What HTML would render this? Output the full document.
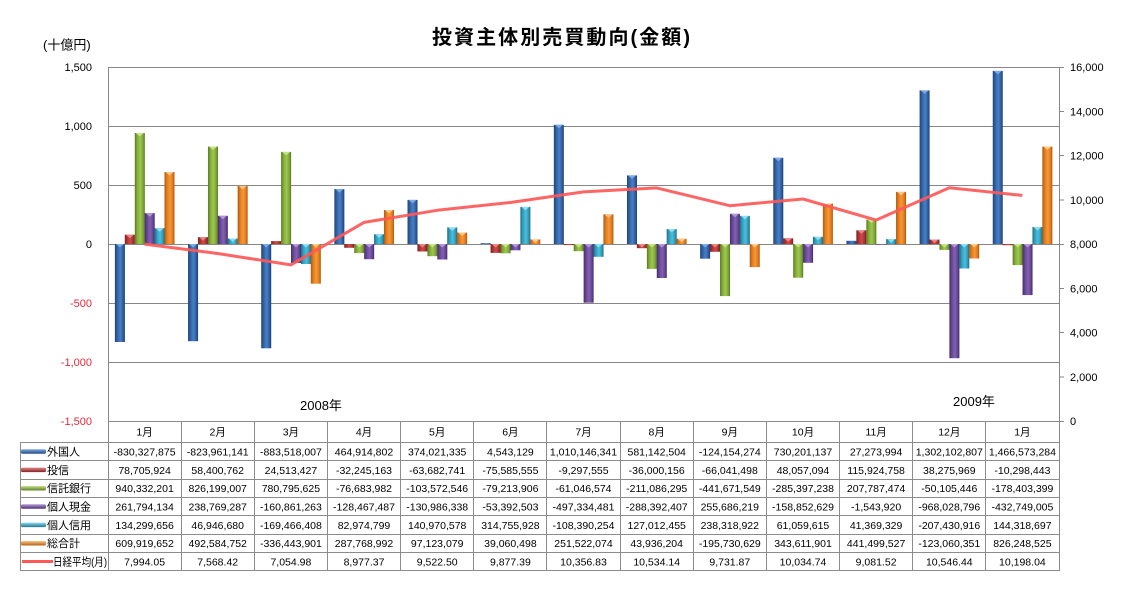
<!DOCTYPE html>
<html><head><meta charset="utf-8"><style>
html,body{margin:0;padding:0;background:#fff;}
svg{display:block;font-family:"Liberation Sans","Noto Sans CJK JP",sans-serif;}
</style></head><body>
<svg width="1121" height="591" viewBox="0 0 1121 591" xmlns="http://www.w3.org/2000/svg">
<defs>
<linearGradient id="g0" x1="0" x2="1" y1="0" y2="0"><stop offset="0" stop-color="#1f4479"/><stop offset="0.25" stop-color="#3163a6"/><stop offset="0.55" stop-color="#4a7fc6"/><stop offset="0.85" stop-color="#2c5a98"/><stop offset="1" stop-color="#1d3f70"/></linearGradient>
<linearGradient id="g1" x1="0" x2="1" y1="0" y2="0"><stop offset="0" stop-color="#7c2020"/><stop offset="0.25" stop-color="#b13434"/><stop offset="0.55" stop-color="#cc4c4c"/><stop offset="0.85" stop-color="#a42f2f"/><stop offset="1" stop-color="#751e1e"/></linearGradient>
<linearGradient id="g2" x1="0" x2="1" y1="0" y2="0"><stop offset="0" stop-color="#5a7822"/><stop offset="0.25" stop-color="#84ad38"/><stop offset="0.55" stop-color="#9fc652"/><stop offset="0.85" stop-color="#7aa132"/><stop offset="1" stop-color="#557220"/></linearGradient>
<linearGradient id="g3" x1="0" x2="1" y1="0" y2="0"><stop offset="0" stop-color="#452d69"/><stop offset="0.25" stop-color="#684896"/><stop offset="0.55" stop-color="#8261b3"/><stop offset="0.85" stop-color="#61428c"/><stop offset="1" stop-color="#412a63"/></linearGradient>
<linearGradient id="g4" x1="0" x2="1" y1="0" y2="0"><stop offset="0" stop-color="#1c6f88"/><stop offset="0.25" stop-color="#31a0bf"/><stop offset="0.55" stop-color="#4dbedb"/><stop offset="0.85" stop-color="#2d95b2"/><stop offset="1" stop-color="#1a6880"/></linearGradient>
<linearGradient id="g5" x1="0" x2="1" y1="0" y2="0"><stop offset="0" stop-color="#ad580e"/><stop offset="0.25" stop-color="#e57d1c"/><stop offset="0.55" stop-color="#f4983b"/><stop offset="0.85" stop-color="#dc7719"/><stop offset="1" stop-color="#a6540d"/></linearGradient>
<polygon id="k0" points="1,0 9,0 5,3.5" fill="#7fa9e4"/>
<polygon id="k1" points="1,0 9,0 5,3.5" fill="#e68888"/>
<polygon id="k2" points="1,0 9,0 5,3.5" fill="#c6e38c"/>
<polygon id="k3" points="1,0 9,0 5,3.5" fill="#b398d8"/>
<polygon id="k4" points="1,0 9,0 5,3.5" fill="#92dcef"/>
<polygon id="k5" points="1,0 9,0 5,3.5" fill="#fbc78a"/>
<linearGradient id="l0" x1="0" x2="0" y1="0" y2="1"><stop offset="0" stop-color="#7fa9e4"/><stop offset="1" stop-color="#24497e"/></linearGradient>
<linearGradient id="l1" x1="0" x2="0" y1="0" y2="1"><stop offset="0" stop-color="#e68888"/><stop offset="1" stop-color="#842424"/></linearGradient>
<linearGradient id="l2" x1="0" x2="0" y1="0" y2="1"><stop offset="0" stop-color="#c6e38c"/><stop offset="1" stop-color="#5e7d25"/></linearGradient>
<linearGradient id="l3" x1="0" x2="0" y1="0" y2="1"><stop offset="0" stop-color="#b398d8"/><stop offset="1" stop-color="#4a3170"/></linearGradient>
<linearGradient id="l4" x1="0" x2="0" y1="0" y2="1"><stop offset="0" stop-color="#92dcef"/><stop offset="1" stop-color="#1f7690"/></linearGradient>
<linearGradient id="l5" x1="0" x2="0" y1="0" y2="1"><stop offset="0" stop-color="#fbc78a"/><stop offset="1" stop-color="#b55e10"/></linearGradient>
</defs>

<text x="561" y="44" font-size="20" font-weight="bold" text-anchor="middle" textLength="258" lengthAdjust="spacing" fill="#000">投資主体別売買動向(金額)</text>
<text x="43" y="49.5" font-size="13" fill="#000">(十億円)</text>

<g stroke="#878787" stroke-width="1">
<line x1="108" y1="67.5" x2="1059" y2="67.5"/>
<line x1="108" y1="126.5" x2="1059" y2="126.5"/>
<line x1="108" y1="185.5" x2="1059" y2="185.5"/>
<line x1="108" y1="244.5" x2="1059" y2="244.5"/>
<line x1="108" y1="303.5" x2="1059" y2="303.5"/>
<line x1="108" y1="362.5" x2="1059" y2="362.5"/>
</g>

<g font-size="11" text-anchor="end">
<text x="92" y="71" fill="#000">1,500</text>
<text x="92" y="130" fill="#000">1,000</text>
<text x="92" y="189" fill="#000">500</text>
<text x="92" y="248" fill="#000">0</text>
<text x="92" y="307" fill="#e8283a">-500</text>
<text x="92" y="366" fill="#e8283a">-1,000</text>
<text x="92" y="425" fill="#e8283a">-1,500</text>
</g>

<g font-size="11" fill="#000">
<text x="1070" y="71">16,000</text>
<text x="1070" y="115.3">14,000</text>
<text x="1070" y="159.5">12,000</text>
<text x="1070" y="203.8">10,000</text>
<text x="1070" y="248">8,000</text>
<text x="1070" y="292.3">6,000</text>
<text x="1070" y="336.5">4,000</text>
<text x="1070" y="380.8">2,000</text>
<text x="1070" y="425">0</text>
</g>
<g stroke="#878787" stroke-width="1">
<line x1="1059" y1="67.5" x2="1064" y2="67.5"/>
<line x1="1059" y1="111.5" x2="1064" y2="111.5"/>
<line x1="1059" y1="155.5" x2="1064" y2="155.5"/>
<line x1="1059" y1="200" x2="1064" y2="200"/>
<line x1="1059" y1="244.5" x2="1064" y2="244.5"/>
<line x1="1059" y1="288.5" x2="1064" y2="288.5"/>
<line x1="1059" y1="332.5" x2="1064" y2="332.5"/>
<line x1="1059" y1="377" x2="1064" y2="377"/>
<line x1="1059" y1="421.5" x2="1064" y2="421.5"/>
</g>

<g transform="translate(108,0)">
<rect x="6.9" y="244" width="10" height="98.0" fill="url(#g0)"/><use href="#k0" x="6.9" y="244"/>
<rect x="16.8" y="234.7" width="10" height="9.3" fill="url(#g1)"/><use href="#k1" x="16.8" y="234.7"/>
<rect x="26.8" y="133.0" width="10" height="111.0" fill="url(#g2)"/><use href="#k2" x="26.8" y="133.0"/>
<rect x="36.7" y="213.1" width="10" height="30.9" fill="url(#g3)"/><use href="#k3" x="36.7" y="213.1"/>
<rect x="46.6" y="228.2" width="10" height="15.8" fill="url(#g4)"/><use href="#k4" x="46.6" y="228.2"/>
<rect x="56.5" y="172.0" width="10" height="72.0" fill="url(#g5)"/><use href="#k5" x="56.5" y="172.0"/>
</g>
<g transform="translate(181.15,0)">
<rect x="6.9" y="244" width="10" height="97.2" fill="url(#g0)"/><use href="#k0" x="6.9" y="244"/>
<rect x="16.8" y="237.1" width="10" height="6.9" fill="url(#g1)"/><use href="#k1" x="16.8" y="237.1"/>
<rect x="26.8" y="146.5" width="10" height="97.5" fill="url(#g2)"/><use href="#k2" x="26.8" y="146.5"/>
<rect x="36.7" y="215.8" width="10" height="28.2" fill="url(#g3)"/><use href="#k3" x="36.7" y="215.8"/>
<rect x="46.6" y="238.5" width="10" height="5.5" fill="url(#g4)"/><use href="#k4" x="46.6" y="238.5"/>
<rect x="56.5" y="185.9" width="10" height="58.1" fill="url(#g5)"/><use href="#k5" x="56.5" y="185.9"/>
</g>
<g transform="translate(254.31,0)">
<rect x="6.9" y="244" width="10" height="104.3" fill="url(#g0)"/><use href="#k0" x="6.9" y="244"/>
<rect x="16.8" y="241.1" width="10" height="2.9" fill="url(#g1)"/>
<rect x="26.8" y="151.9" width="10" height="92.1" fill="url(#g2)"/><use href="#k2" x="26.8" y="151.9"/>
<rect x="36.7" y="244" width="10" height="19.0" fill="url(#g3)"/><use href="#k3" x="36.7" y="244"/>
<rect x="46.6" y="244" width="10" height="20.0" fill="url(#g4)"/><use href="#k4" x="46.6" y="244"/>
<rect x="56.5" y="244" width="10" height="39.7" fill="url(#g5)"/><use href="#k5" x="56.5" y="244"/>
</g>
<g transform="translate(327.46,0)">
<rect x="6.9" y="189.1" width="10" height="54.9" fill="url(#g0)"/><use href="#k0" x="6.9" y="189.1"/>
<rect x="16.8" y="244" width="10" height="3.8" fill="url(#g1)"/>
<rect x="26.8" y="244" width="10" height="9.1" fill="url(#g2)"/><use href="#k2" x="26.8" y="244"/>
<rect x="36.7" y="244" width="10" height="15.2" fill="url(#g3)"/><use href="#k3" x="36.7" y="244"/>
<rect x="46.6" y="234.2" width="10" height="9.8" fill="url(#g4)"/><use href="#k4" x="46.6" y="234.2"/>
<rect x="56.5" y="210.0" width="10" height="34.0" fill="url(#g5)"/><use href="#k5" x="56.5" y="210.0"/>
</g>
<g transform="translate(400.62,0)">
<rect x="6.9" y="199.9" width="10" height="44.1" fill="url(#g0)"/><use href="#k0" x="6.9" y="199.9"/>
<rect x="16.8" y="244" width="10" height="7.5" fill="url(#g1)"/><use href="#k1" x="16.8" y="244"/>
<rect x="26.8" y="244" width="10" height="12.2" fill="url(#g2)"/><use href="#k2" x="26.8" y="244"/>
<rect x="36.7" y="244" width="10" height="15.5" fill="url(#g3)"/><use href="#k3" x="36.7" y="244"/>
<rect x="46.6" y="227.4" width="10" height="16.6" fill="url(#g4)"/><use href="#k4" x="46.6" y="227.4"/>
<rect x="56.5" y="232.5" width="10" height="11.5" fill="url(#g5)"/><use href="#k5" x="56.5" y="232.5"/>
</g>
<g transform="translate(473.77,0)">
<rect x="6.9" y="243.2" width="10" height="0.8" fill="url(#g0)"/>
<rect x="16.8" y="244" width="10" height="8.9" fill="url(#g1)"/><use href="#k1" x="16.8" y="244"/>
<rect x="26.8" y="244" width="10" height="9.3" fill="url(#g2)"/><use href="#k2" x="26.8" y="244"/>
<rect x="36.7" y="244" width="10" height="6.3" fill="url(#g3)"/><use href="#k3" x="36.7" y="244"/>
<rect x="46.6" y="206.9" width="10" height="37.1" fill="url(#g4)"/><use href="#k4" x="46.6" y="206.9"/>
<rect x="56.5" y="239.4" width="10" height="4.6" fill="url(#g5)"/><use href="#k5" x="56.5" y="239.4"/>
</g>
<g transform="translate(546.92,0)">
<rect x="6.9" y="124.8" width="10" height="119.2" fill="url(#g0)"/><use href="#k0" x="6.9" y="124.8"/>
<rect x="16.8" y="244" width="10" height="1.1" fill="url(#g1)"/>
<rect x="26.8" y="244" width="10" height="7.2" fill="url(#g2)"/><use href="#k2" x="26.8" y="244"/>
<rect x="36.7" y="244" width="10" height="58.7" fill="url(#g3)"/><use href="#k3" x="36.7" y="244"/>
<rect x="46.6" y="244" width="10" height="12.8" fill="url(#g4)"/><use href="#k4" x="46.6" y="244"/>
<rect x="56.5" y="214.3" width="10" height="29.7" fill="url(#g5)"/><use href="#k5" x="56.5" y="214.3"/>
</g>
<g transform="translate(620.08,0)">
<rect x="6.9" y="175.4" width="10" height="68.6" fill="url(#g0)"/><use href="#k0" x="6.9" y="175.4"/>
<rect x="16.8" y="244" width="10" height="4.2" fill="url(#g1)"/><use href="#k1" x="16.8" y="244"/>
<rect x="26.8" y="244" width="10" height="24.9" fill="url(#g2)"/><use href="#k2" x="26.8" y="244"/>
<rect x="36.7" y="244" width="10" height="34.0" fill="url(#g3)"/><use href="#k3" x="36.7" y="244"/>
<rect x="46.6" y="229.0" width="10" height="15.0" fill="url(#g4)"/><use href="#k4" x="46.6" y="229.0"/>
<rect x="56.5" y="238.8" width="10" height="5.2" fill="url(#g5)"/><use href="#k5" x="56.5" y="238.8"/>
</g>
<g transform="translate(693.23,0)">
<rect x="6.9" y="244" width="10" height="14.7" fill="url(#g0)"/><use href="#k0" x="6.9" y="244"/>
<rect x="16.8" y="244" width="10" height="7.8" fill="url(#g1)"/><use href="#k1" x="16.8" y="244"/>
<rect x="26.8" y="244" width="10" height="52.1" fill="url(#g2)"/><use href="#k2" x="26.8" y="244"/>
<rect x="36.7" y="213.8" width="10" height="30.2" fill="url(#g3)"/><use href="#k3" x="36.7" y="213.8"/>
<rect x="46.6" y="215.9" width="10" height="28.1" fill="url(#g4)"/><use href="#k4" x="46.6" y="215.9"/>
<rect x="56.5" y="244" width="10" height="23.1" fill="url(#g5)"/><use href="#k5" x="56.5" y="244"/>
</g>
<g transform="translate(766.38,0)">
<rect x="6.9" y="157.8" width="10" height="86.2" fill="url(#g0)"/><use href="#k0" x="6.9" y="157.8"/>
<rect x="16.8" y="238.3" width="10" height="5.7" fill="url(#g1)"/><use href="#k1" x="16.8" y="238.3"/>
<rect x="26.8" y="244" width="10" height="33.7" fill="url(#g2)"/><use href="#k2" x="26.8" y="244"/>
<rect x="36.7" y="244" width="10" height="18.8" fill="url(#g3)"/><use href="#k3" x="36.7" y="244"/>
<rect x="46.6" y="236.8" width="10" height="7.2" fill="url(#g4)"/><use href="#k4" x="46.6" y="236.8"/>
<rect x="56.5" y="203.5" width="10" height="40.5" fill="url(#g5)"/><use href="#k5" x="56.5" y="203.5"/>
</g>
<g transform="translate(839.54,0)">
<rect x="6.9" y="240.8" width="10" height="3.2" fill="url(#g0)"/>
<rect x="16.8" y="230.3" width="10" height="13.7" fill="url(#g1)"/><use href="#k1" x="16.8" y="230.3"/>
<rect x="26.8" y="219.5" width="10" height="24.5" fill="url(#g2)"/><use href="#k2" x="26.8" y="219.5"/>
<rect x="36.7" y="244" width="10" height="0.5" fill="url(#g3)"/>
<rect x="46.6" y="239.1" width="10" height="4.9" fill="url(#g4)"/><use href="#k4" x="46.6" y="239.1"/>
<rect x="56.5" y="191.9" width="10" height="52.1" fill="url(#g5)"/><use href="#k5" x="56.5" y="191.9"/>
</g>
<g transform="translate(912.69,0)">
<rect x="6.9" y="90.4" width="10" height="153.6" fill="url(#g0)"/><use href="#k0" x="6.9" y="90.4"/>
<rect x="16.8" y="239.5" width="10" height="4.5" fill="url(#g1)"/><use href="#k1" x="16.8" y="239.5"/>
<rect x="26.8" y="244" width="10" height="5.9" fill="url(#g2)"/><use href="#k2" x="26.8" y="244"/>
<rect x="36.7" y="244" width="10" height="114.2" fill="url(#g3)"/><use href="#k3" x="36.7" y="244"/>
<rect x="46.6" y="244" width="10" height="24.5" fill="url(#g4)"/><use href="#k4" x="46.6" y="244"/>
<rect x="56.5" y="244" width="10" height="14.5" fill="url(#g5)"/><use href="#k5" x="56.5" y="244"/>
</g>
<g transform="translate(985.85,0)">
<rect x="6.9" y="70.9" width="10" height="173.1" fill="url(#g0)"/><use href="#k0" x="6.9" y="70.9"/>
<rect x="16.8" y="244" width="10" height="1.2" fill="url(#g1)"/>
<rect x="26.8" y="244" width="10" height="21.1" fill="url(#g2)"/><use href="#k2" x="26.8" y="244"/>
<rect x="36.7" y="244" width="10" height="51.1" fill="url(#g3)"/><use href="#k3" x="36.7" y="244"/>
<rect x="46.6" y="227.0" width="10" height="17.0" fill="url(#g4)"/><use href="#k4" x="46.6" y="227.0"/>
<rect x="56.5" y="146.5" width="10" height="97.5" fill="url(#g5)"/><use href="#k5" x="56.5" y="146.5"/>
</g>

<polyline fill="none" stroke="#ff5858" stroke-opacity="0.92" stroke-width="3" stroke-linejoin="round" points="144.6,244.1 217.7,253.5 290.9,264.9 364.0,222.4 437.2,210.3 510.4,202.5 583.5,191.9 656.7,187.9 729.8,205.7 803.0,199.0 876.1,220.1 949.3,187.7 1022.4,195.4"/>

<g stroke="#878787" stroke-width="1">
<line x1="108.5" y1="67" x2="108.5" y2="571"/>
<line x1="1059.5" y1="67" x2="1059.5" y2="571"/>
</g>

<text x="300" y="410" font-size="13" fill="#000">2008年</text>
<text x="953" y="406" font-size="13" fill="#000">2009年</text>

<g stroke="#8c8c8c" stroke-width="1">
<line x1="108" y1="421.5" x2="1059" y2="421.5"/>
<line x1="20" y1="442.5" x2="1059" y2="442.5"/>
<line x1="20" y1="460.5" x2="1059" y2="460.5"/>
<line x1="20" y1="479.5" x2="1059" y2="479.5"/>
<line x1="20" y1="497.5" x2="1059" y2="497.5"/>
<line x1="20" y1="515.5" x2="1059" y2="515.5"/>
<line x1="20" y1="534.5" x2="1059" y2="534.5"/>
<line x1="20" y1="552.5" x2="1059" y2="552.5"/>
<line x1="20" y1="570.5" x2="1059" y2="570.5"/>
<line x1="20.5" y1="442" x2="20.5" y2="571"/>
<line x1="181.5" y1="421" x2="181.5" y2="571"/>
<line x1="254.5" y1="421" x2="254.5" y2="571"/>
<line x1="327.5" y1="421" x2="327.5" y2="571"/>
<line x1="400.5" y1="421" x2="400.5" y2="571"/>
<line x1="473.5" y1="421" x2="473.5" y2="571"/>
<line x1="546.5" y1="421" x2="546.5" y2="571"/>
<line x1="620.5" y1="421" x2="620.5" y2="571"/>
<line x1="693.5" y1="421" x2="693.5" y2="571"/>
<line x1="766.5" y1="421" x2="766.5" y2="571"/>
<line x1="839.5" y1="421" x2="839.5" y2="571"/>
<line x1="912.5" y1="421" x2="912.5" y2="571"/>
<line x1="985.5" y1="421" x2="985.5" y2="571"/>
</g>

<rect x="21" y="449.3" width="25" height="4.5" rx="1.5" fill="url(#l0)"/>
<rect x="21" y="467.6" width="25" height="4.5" rx="1.5" fill="url(#l1)"/>
<rect x="21" y="486.0" width="25" height="4.5" rx="1.5" fill="url(#l2)"/>
<rect x="21" y="504.3" width="25" height="4.5" rx="1.5" fill="url(#l3)"/>
<rect x="21" y="522.6" width="25" height="4.5" rx="1.5" fill="url(#l4)"/>
<rect x="21" y="541.0" width="25" height="4.5" rx="1.5" fill="url(#l5)"/>
<line x1="22" y1="561.5" x2="53" y2="561.5" stroke="#ff5858" stroke-width="3"/>

<g font-size="11" fill="#000">
<text x="47" y="455.5">外国人</text>
<text x="47" y="473.8">投信</text>
<text x="47" y="492.2">信託銀行</text>
<text x="47" y="510.5">個人現金</text>
<text x="47" y="528.8">個人信用</text>
<text x="47" y="547.2">総合計</text>
<text x="53" y="565.5" textLength="54" lengthAdjust="spacingAndGlyphs">日経平均(月)</text>
</g>

<g font-size="10.5" fill="#000" text-anchor="middle">
<text y="435.5"><tspan x="144.6">1月</tspan><tspan x="217.7">2月</tspan><tspan x="290.9">3月</tspan><tspan x="364.0">4月</tspan><tspan x="437.2">5月</tspan><tspan x="510.4">6月</tspan><tspan x="583.5">7月</tspan><tspan x="656.7">8月</tspan><tspan x="729.8">9月</tspan><tspan x="803.0">10月</tspan><tspan x="876.1">11月</tspan><tspan x="949.3">12月</tspan><tspan x="1022.4">1月</tspan></text>
<text y="455.5"><tspan x="144.6">-830,327,875</tspan><tspan x="217.7">-823,961,141</tspan><tspan x="290.9">-883,518,007</tspan><tspan x="364.0">464,914,802</tspan><tspan x="437.2">374,021,335</tspan><tspan x="510.4">4,543,129</tspan><tspan x="583.5">1,010,146,341</tspan><tspan x="656.7">581,142,504</tspan><tspan x="729.8">-124,154,274</tspan><tspan x="803.0">730,201,137</tspan><tspan x="876.1">27,273,994</tspan><tspan x="949.3">1,302,102,807</tspan><tspan x="1022.4">1,466,573,284</tspan></text>
<text y="473.8"><tspan x="144.6">78,705,924</tspan><tspan x="217.7">58,400,762</tspan><tspan x="290.9">24,513,427</tspan><tspan x="364.0">-32,245,163</tspan><tspan x="437.2">-63,682,741</tspan><tspan x="510.4">-75,585,555</tspan><tspan x="583.5">-9,297,555</tspan><tspan x="656.7">-36,000,156</tspan><tspan x="729.8">-66,041,498</tspan><tspan x="803.0">48,057,094</tspan><tspan x="876.1">115,924,758</tspan><tspan x="949.3">38,275,969</tspan><tspan x="1022.4">-10,298,443</tspan></text>
<text y="492.2"><tspan x="144.6">940,332,201</tspan><tspan x="217.7">826,199,007</tspan><tspan x="290.9">780,795,625</tspan><tspan x="364.0">-76,683,982</tspan><tspan x="437.2">-103,572,546</tspan><tspan x="510.4">-79,213,906</tspan><tspan x="583.5">-61,046,574</tspan><tspan x="656.7">-211,086,295</tspan><tspan x="729.8">-441,671,549</tspan><tspan x="803.0">-285,397,238</tspan><tspan x="876.1">207,787,474</tspan><tspan x="949.3">-50,105,446</tspan><tspan x="1022.4">-178,403,399</tspan></text>
<text y="510.5"><tspan x="144.6">261,794,134</tspan><tspan x="217.7">238,769,287</tspan><tspan x="290.9">-160,861,263</tspan><tspan x="364.0">-128,467,487</tspan><tspan x="437.2">-130,986,338</tspan><tspan x="510.4">-53,392,503</tspan><tspan x="583.5">-497,334,481</tspan><tspan x="656.7">-288,392,407</tspan><tspan x="729.8">255,686,219</tspan><tspan x="803.0">-158,852,629</tspan><tspan x="876.1">-1,543,920</tspan><tspan x="949.3">-968,028,796</tspan><tspan x="1022.4">-432,749,005</tspan></text>
<text y="528.8"><tspan x="144.6">134,299,656</tspan><tspan x="217.7">46,946,680</tspan><tspan x="290.9">-169,466,408</tspan><tspan x="364.0">82,974,799</tspan><tspan x="437.2">140,970,578</tspan><tspan x="510.4">314,755,928</tspan><tspan x="583.5">-108,390,254</tspan><tspan x="656.7">127,012,455</tspan><tspan x="729.8">238,318,922</tspan><tspan x="803.0">61,059,615</tspan><tspan x="876.1">41,369,329</tspan><tspan x="949.3">-207,430,916</tspan><tspan x="1022.4">144,318,697</tspan></text>
<text y="547.2"><tspan x="144.6">609,919,652</tspan><tspan x="217.7">492,584,752</tspan><tspan x="290.9">-336,443,901</tspan><tspan x="364.0">287,768,992</tspan><tspan x="437.2">97,123,079</tspan><tspan x="510.4">39,060,498</tspan><tspan x="583.5">251,522,074</tspan><tspan x="656.7">43,936,204</tspan><tspan x="729.8">-195,730,629</tspan><tspan x="803.0">343,611,901</tspan><tspan x="876.1">441,499,527</tspan><tspan x="949.3">-123,060,351</tspan><tspan x="1022.4">826,248,525</tspan></text>
<text y="565.5"><tspan x="144.6">7,994.05</tspan><tspan x="217.7">7,568.42</tspan><tspan x="290.9">7,054.98</tspan><tspan x="364.0">8,977.37</tspan><tspan x="437.2">9,522.50</tspan><tspan x="510.4">9,877.39</tspan><tspan x="583.5">10,356.83</tspan><tspan x="656.7">10,534.14</tspan><tspan x="729.8">9,731.87</tspan><tspan x="803.0">10,034.74</tspan><tspan x="876.1">9,081.52</tspan><tspan x="949.3">10,546.44</tspan><tspan x="1022.4">10,198.04</tspan></text>
</g>
</svg>
</body></html>
